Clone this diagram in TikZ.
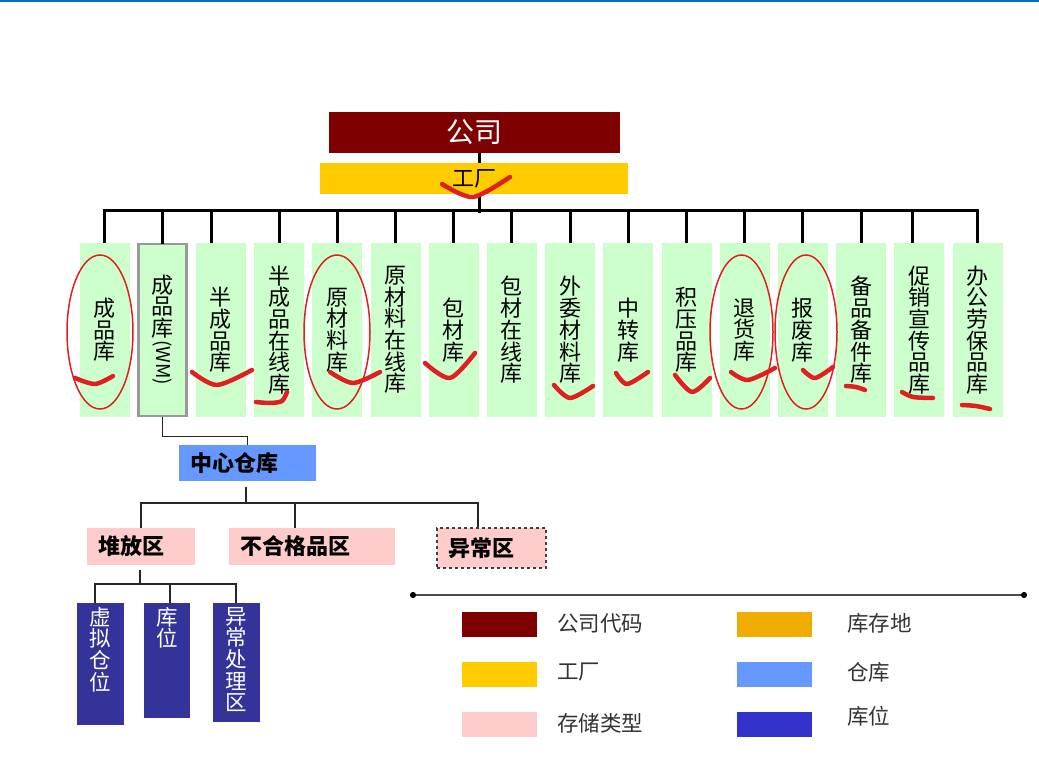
\documentclass[tikz,border=0pt]{standalone}
\usepackage{fontspec}
\setmainfont{Noto Sans CJK SC}
\usepackage{graphicx}
\usetikzlibrary{arrows.meta}
\definecolor{compc}{HTML}{7F0000}
\definecolor{plantc}{HTML}{FFCC00}
\definecolor{lgreen}{HTML}{CCFFCC}
\definecolor{whc}{HTML}{6699FF}
\definecolor{pinkc}{HTML}{FFCCCC}
\definecolor{navyc}{HTML}{333399}
\definecolor{binc}{HTML}{3333CC}
\definecolor{slocc}{HTML}{F0AC00}
\definecolor{topblue}{HTML}{0070C0}
\definecolor{markred}{HTML}{E02020}
\definecolor{legtext}{HTML}{333333}
\begin{document}
\begin{tikzpicture}[x=1pt,y=-1pt,
  bus/.style={line width=3pt,black},
  thin/.style={line width=1.5pt,black!85},
  gbox/.style={fill=lgreen,minimum width=50pt,minimum height=174pt,inner sep=0pt,align=center,font=\fontsize{22}{21.7}\selectfont},
  pbox/.style={fill=pinkc,minimum height=37pt,inner xsep=11pt,inner ysep=0pt,align=left,font=\bfseries\fontsize{22}{22}\selectfont},
  dbox/.style={fill=navyc,minimum width=47pt,inner sep=0pt},
  dlabel/.style={anchor=north,inner sep=0pt,yshift=-4pt,text=white,align=center,font=\fontsize{21.5}{21.7}\selectfont},
  swatch/.style={minimum width=75pt,minimum height=25pt,inner sep=0pt},
  legt/.style={anchor=west,text=legtext,inner sep=0pt,font=\fontsize{21.5}{22}\selectfont},
  redring/.style={draw=markred,line width=1.5pt},
  redmark/.style={draw=markred,line width=4.5pt,line cap=round,line join=round}]
\useasboundingbox (0,0) rectangle (1039,781);
\coordinate (tl) at (0,1);
\coordinate (tr) at (1039,1);
\draw[topblue,line width=2.5pt] (tl) -- (tr);

% top
\node[fill=compc,minimum width=291pt,minimum height=41pt,inner sep=0pt,text=white,font=\fontsize{28}{30}\selectfont] (gs) at (474.5,132.5) {公司};
\node[fill=plantc,minimum width=308pt,minimum height=31pt,inner sep=0pt,font=\fontsize{22}{22}\selectfont] (gc) at (474,178.5) {工厂};

% storage locations
\node[gbox] (b1) at (104.5,330) {成\\品\\库};
\node[gbox,draw=black!40,line width=2.5pt,minimum width=48pt,minimum height=172pt] (b2) at (162.7,330) {成\\品\\库\\[1pt]\rotatebox[origin=c]{-90}{\fontsize{19}{19}\selectfont(WM)}};
\node[gbox] (b3) at (220.9,330) {半\\成\\品\\库};
\node[gbox] (b4) at (279.1,330) {半\\成\\品\\在\\线\\库};
\node[gbox] (b5) at (337.3,330) {原\\材\\料\\库};
\node[gbox] (b6) at (395.5,330) {原\\材\\料\\在\\线\\库};
\node[gbox] (b7) at (453.7,330) {包\\材\\库};
\node[gbox] (b8) at (511.9,330) {包\\材\\在\\线\\库};
\node[gbox] (b9) at (570.1,330) {外\\委\\材\\料\\库};
\node[gbox] (b10) at (628.3,330) {中\\转\\库};
\node[gbox] (b11) at (686.5,330) {积\\压\\品\\库};
\node[gbox] (b12) at (744.7,330) {退\\货\\库};
\node[gbox] (b13) at (802.9,330) {报\\废\\库};
\node[gbox] (b14) at (861.1,330) {备\\品\\备\\件\\库};
\node[gbox] (b15) at (919.3,330) {促\\销\\宣\\传\\品\\库};
\node[gbox] (b16) at (977.5,330) {办\\公\\劳\\保\\品\\库};

\coordinate (busL) at (104.5,210);
\coordinate (busR) at (977.5,210);
\draw[bus] ([xshift=-1.5pt]busL) -- ([xshift=1.5pt]busR);
\draw[bus] ([xshift=4.5pt]gs.south) -- ([xshift=5pt]gc.north);
\draw[bus] ([xshift=5pt]gc.south) -- ++(0,19);
\foreach \n in {b1,b4,b5,b6,b7,b8,b9,b10,b11,b12,b13,b14,b16}
  \draw[bus] (\n.north) -- ++(0,-33);
\draw[bus] ([yshift=-1pt]b2.north) -- ++(0,-32);
\draw[bus] ([xshift=-9pt]b3.north) -- ++(0,-33);
\draw[bus] ([xshift=-7pt]b15.north) -- ++(0,-33);

% warehouse
\node[fill=whc,minimum height=36pt,text width=115pt,inner xsep=11pt,inner ysep=0pt,align=left,font=\bfseries\fontsize{22}{22}\selectfont] (wh) at (247.5,463) {中心仓库};
\draw[thin] (b2.south) -- ++(0,19) -| (wh.north);

% storage types
\node[pbox,text width=86pt] (st1) at (141,546.5) {堆放区};
\node[pbox,text width=144pt] (st2) at (312,546.5) {不合格品区};
\node[pbox,text width=87pt,minimum height=40pt,draw=black!75,dashed,line width=1.3pt] (st3) at (491.5,548) {异常区};
\draw[thin] ([xshift=-1.5pt,yshift=-6pt]wh.south) -- ++(0,16);
\draw[thin] (st1.north) -- ++(0,-25) -| ([xshift=-13.5pt]st3.north);
\draw[thin] ([xshift=-17pt]st2.north) -- ++(0,-25);

% bins
\node[dbox,minimum height=122pt,label={[dlabel]north:虚\\拟\\仓\\位}] (d1) at (100.5,664) {};
\node[dbox,minimum width=46pt,minimum height=115pt,label={[dlabel]north:库\\位}] (d2) at (167,660.5) {};
\node[dbox,minimum height=119pt,label={[dlabel]north:异\\常\\处\\理\\区}] (d3) at (236.5,662.5) {};
\draw[thin] ([xshift=-1pt,yshift=-5pt]st1.south) -- ++(0,15);
\draw[thin] ([xshift=-5.5pt]d1.north) -- ++(0,-19) -| ([xshift=-0.5pt]d3.north);
\draw[thin] ([xshift=3pt]d2.north) -- ++(0,-19);

% legend
\coordinate (lgl) at (410,595);
\coordinate (lgr) at (1027,595);
\draw[black!70,line width=2pt,{Circle[length=6pt,black]}-{Circle[length=6pt,black]}] (lgl) -- (lgr);
\node[swatch,fill=compc] (k1) at (499.5,624.5) {};
\node[swatch,fill=plantc] (k2) at (499.5,674.5) {};
\node[swatch,fill=pinkc] (k3) at (499.5,724.5) {};
\node[swatch,fill=slocc] (k4) at (774.5,624.5) {};
\node[swatch,fill=whc] (k5) at (774.5,674.5) {};
\node[swatch,fill=binc] (k6) at (774.5,724.5) {};
\node[legt] (t1) at (557,623) {公司代码};
\node[legt] (t2) at (557,672) {工厂};
\node[legt] (t3) at (557,723) {存储类型};
\node[legt] (t4) at (847,623) {库存地};
\node[legt] (t5) at (847,672) {仓库};
\node[legt] (t6) at (847,716) {库位};

% red hand annotations
\draw[redring] (100,332) ellipse [x radius=33pt,y radius=77pt];
\draw[redring] (337,332) ellipse [x radius=33pt,y radius=77pt];
\draw[redring] (741.5,332) ellipse [x radius=31.5pt,y radius=77pt];
\draw[redring] (806,332) ellipse [x radius=31pt,y radius=77pt];
\draw[redmark] plot[smooth] coordinates {(75,378) (95,384) (113,376)};
\draw[redmark] plot[smooth] coordinates {(442,184) (473,197) (510,177)};
\draw[redmark] plot[smooth] coordinates {(192,372) (217,385) (252,370)};
\draw[redmark] plot[smooth] coordinates {(256,402) (270,403) (282,401) (287,392)};
\draw[redmark] plot[smooth] coordinates {(330,372) (353,383) (380,372)};
\draw[redmark] plot[smooth] coordinates {(425,363) (450,378) (475,353)};
\draw[redmark] plot[smooth] coordinates {(554,385) (570,398) (593,386)};
\draw[redmark] plot[smooth] coordinates {(616,373) (627,384) (648,372)};
\draw[redmark] plot[smooth] coordinates {(675,375) (692,392) (710,378)};
\draw[redmark] plot[smooth] coordinates {(731,372) (748,380) (775,368)};
\draw[redmark] plot[smooth] coordinates {(803,370) (815,378) (833,367)};
\draw[redmark] plot[smooth] coordinates {(846,386) (856,387) (865,390)};
\draw[redmark] plot[smooth] coordinates {(902,392) (913,397) (933,398)};
\draw[redmark] plot[smooth] coordinates {(962,405) (976,406) (990,409)};
\end{tikzpicture}
\end{document}
